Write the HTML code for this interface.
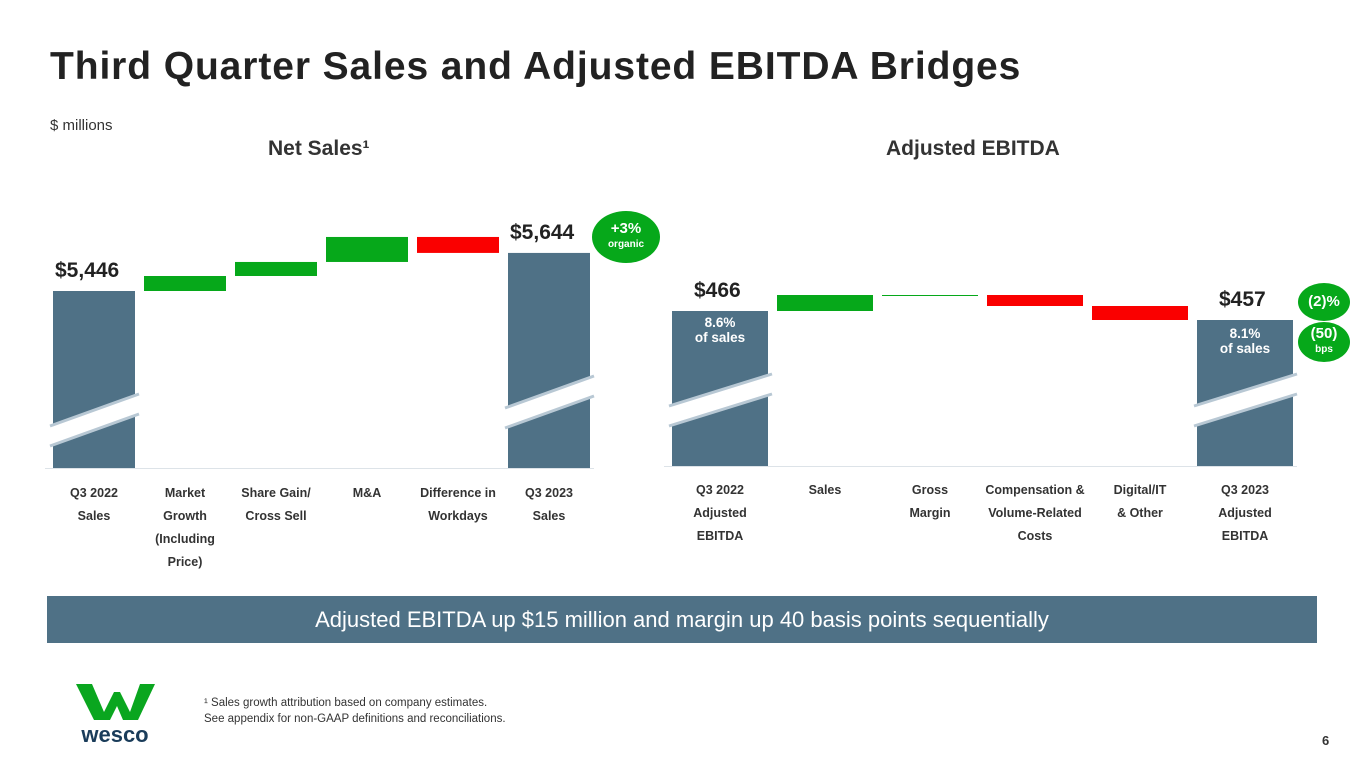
<!DOCTYPE html>
<html><head><meta charset="utf-8"><style>
body{margin:0;width:1365px;height:768px;background:#fff;font-family:"Liberation Sans",sans-serif;position:relative;overflow:hidden;color:#222}
.abs{position:absolute}
.title{left:50px;top:45px;font-size:39px;font-weight:bold;color:#222;letter-spacing:0.9px}
</style></head><body>
<div class="abs title">Third Quarter Sales and Adjusted EBITDA Bridges</div>
<div class="abs" style="left:50px;top:117px;font-size:15px;color:#333">$ millions</div>
<div class="abs" style="left:268px;top:137px;font-size:21px;font-weight:bold;color:#333">Net Sales¹</div>
<div class="abs" style="left:886px;top:137px;font-size:21px;font-weight:bold;color:#333">Adjusted EBITDA</div>
<svg id="chart" class="abs" style="left:0;top:0" width="1365" height="600"></svg>
<div id="labels"></div>
<div class="abs" style="left:47px;top:596px;width:1270px;height:47px;background:#4f7186;color:#fff;font-size:22px;text-align:center;line-height:48px">Adjusted EBITDA up $15 million and margin up 40 basis points sequentially</div>
<svg class="abs" style="left:76px;top:684px" width="80" height="62">
<polygon points="0,0 16,0 28,28 38,8 44,8 54,28 64,0 79,0 62,36 47,36 41,22 34,36 18,36" fill="#0aa61f"/>
<text x="39" y="58" font-size="22" font-weight="bold" fill="#1a3c5a" text-anchor="middle" font-family="Liberation Sans,sans-serif">wesco</text>
</svg>
<div class="abs" style="left:204px;top:695px;font-size:11.5px;color:#333;line-height:16px">¹ Sales growth attribution based on company estimates.<br>See appendix for non-GAAP definitions and reconciliations.</div>
<div class="abs" style="left:1322px;top:733px;font-size:13px;font-weight:bold;color:#333">6</div>
<script>
const salesCats=["Q3 2022<br>Sales","Market<br>Growth<br>(Including<br>Price)","Share Gain/<br>Cross Sell","M&A","Difference in<br>Workdays","Q3 2023<br>Sales"];
const salesStart=5446;
const salesDeltas=[78,73,130,-83];
const salesEnd=5644;
const ebitdaCats=["Q3 2022<br>Adjusted<br>EBITDA","Sales","Gross<br>Margin","Compensation &amp;<br>Volume-Related<br>Costs","Digital/IT<br>&amp; Other","Q3 2023<br>Adjusted<br>EBITDA"];
const ebitdaStart=466;
const ebitdaDeltas=[16,0,-11,-14];
const ebitdaEnd=457;
const ebitdaPct=["8.6%<br>of sales","8.1%<br>of sales"];
const svg=document.getElementById('chart');const L=document.getElementById('labels');
const NS="http://www.w3.org/2000/svg";
function mk(t,a,name){const e=document.createElementNS(NS,t);for(const k in a)e.setAttribute(k,a[k]);


svg.appendChild(e);return e;}
function lbl(html,x,y,css,name){const d=document.createElement('div');d.className='abs';d.innerHTML=html;d.style.cssText+=`left:${x}px;top:${y}px;`+css;


L.appendChild(d);return d;}
function brk(x,w,y,name){
 mk('polygon',{points:`${x-3},${y+14} ${x+w+4},${y-18} ${x+w+4},${y+2} ${x-3},${y+34}`,fill:'#fff'},name);
 mk('line',{x1:x-3,y1:y+14,x2:x+w+4,y2:y-18,stroke:'#b8c8d4','stroke-width':3},name+'-line');
 mk('line',{x1:x-3,y1:y+34,x2:x+w+4,y2:y+2,stroke:'#b8c8d4','stroke-width':3},name+'-line');}
function bridge(o){
 const y=v=>o.y0-(v-o.start)*o.k;
 const xs=i=>o.x0+i*o.step;
 mk('line',{x1:o.x0-8,y1:o.base+0.5,x2:xs(5)+o.w+4,y2:o.base+0.5,stroke:'#dde3e8','stroke-width':1},o.p+'-baseline');
 mk('rect',{x:xs(0),y:y(o.start),width:o.w,height:o.base-y(o.start),fill:'#4f7186'},o.p+'-start-bar');
 let cur=o.start;
 o.deltas.forEach((d,i)=>{const a=y(cur),b=y(cur+d);const top=Math.min(a,b);const h=Math.max(Math.abs(a-b),1);
  mk('rect',{x:xs(i+1),y:top,width:o.w,height:h,fill:d>=0?'#06a81a':'#fa0000'},o.p+'-delta-bar-'+(i+1));cur+=d;});
 mk('rect',{x:xs(5),y:y(o.end),width:o.w,height:o.base-y(o.end),fill:'#4f7186'},o.p+'-end-bar');
 brk(xs(0),o.w,o.brk[0],o.p+'-start-break');brk(xs(5),o.w,o.brk[1],o.p+'-end-break');
 o.cats.forEach((c,i)=>lbl(c,xs(i)+o.w/2-55,o.catY,'width:110px;text-align:center;font-size:12.5px;font-weight:bold;color:#333;line-height:23px','category-label-'+i));
 lbl('$'+o.start.toLocaleString('en-US'),xs(0)+o.lx[0],y(o.start)-32,'font-size:21px;font-weight:bold;color:#222',o.p+'-start-value');
 lbl('$'+o.end.toLocaleString('en-US'),xs(5)+o.lx[1],y(o.end)-32,'font-size:21px;font-weight:bold;color:#222',o.p+'-end-value');
 return {y,xs};}
const s=bridge({p:'sales',x0:53,step:91,w:82,base:468,y0:291,start:salesStart,k:1/5.2,deltas:salesDeltas,end:salesEnd,cats:salesCats,catY:482,brk:[412,394],lx:[2,2]});
const e=bridge({p:'ebitda',x0:672,step:105,w:96,base:466,y0:311,start:ebitdaStart,k:1,deltas:ebitdaDeltas,end:ebitdaEnd,cats:ebitdaCats,catY:479,brk:[392,392],lx:[22,22]});
lbl(ebitdaPct[0],672,315,'width:96px;text-align:center;font-size:13.5px;font-weight:bold;color:#fff;line-height:15px','ebitda-start-margin');
lbl(ebitdaPct[1],1197,326,'width:96px;text-align:center;font-size:13.5px;font-weight:bold;color:#fff;line-height:15px','ebitda-end-margin');
function bub(html,x,y,w,h,name){lbl(html,x,y,`width:${w}px;height:${h}px;border-radius:50%;background:#06a81a;color:#fff;text-align:center;font-weight:bold;display:flex;flex-direction:column;justify-content:center;line-height:16px`,name);}
bub('<span style="font-size:15px">+3%</span><span style="font-size:10px">organic</span>',592,211,68,52,'organic-growth-badge');
bub('<span style="font-size:15px">(2)%</span>',1298,283,52,38,'ebitda-change-badge');
bub('<span style="font-size:15px">(50)</span><span style="font-size:10px">bps</span>',1298,322,52,40,'margin-change-badge');
</script>
</body></html>
